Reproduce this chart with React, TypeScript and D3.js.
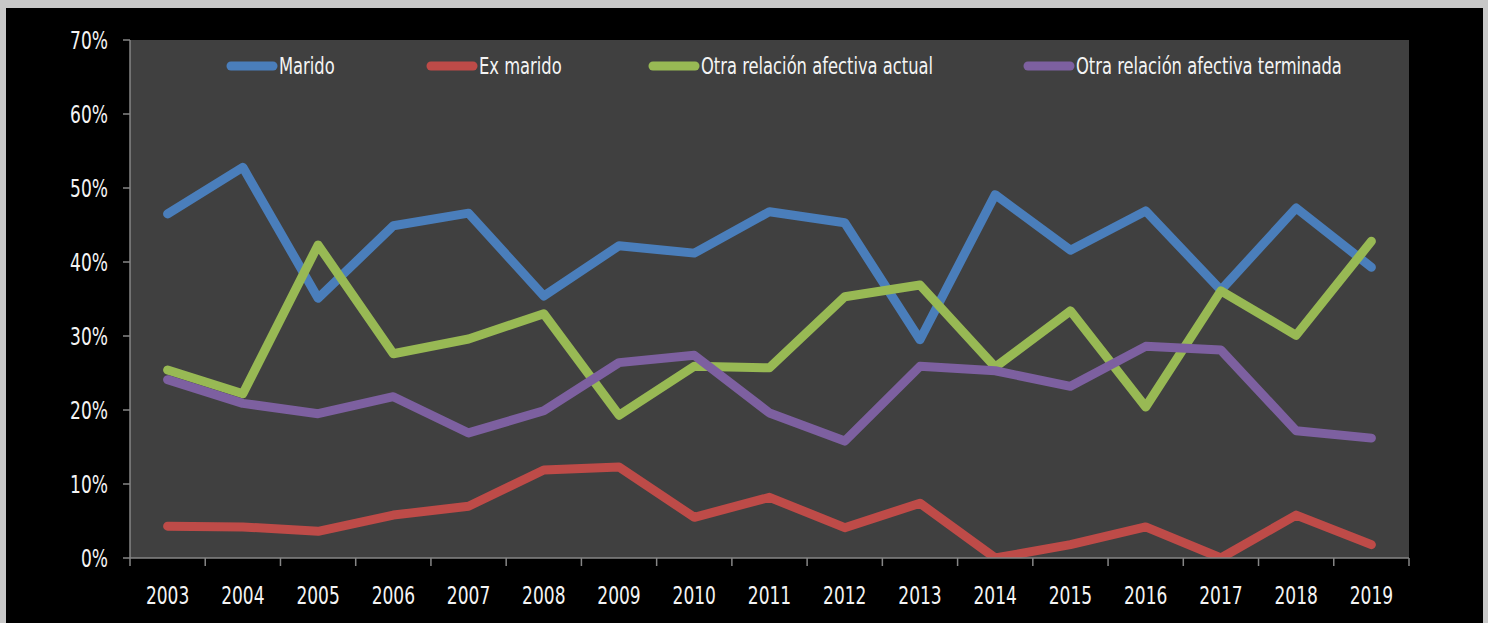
import React from "react";
import * as d3 from "d3";

const years = ["2003", "2004", "2005", "2006", "2007", "2008", "2009", "2010", "2011", "2012", "2013", "2014", "2015", "2016", "2017", "2018", "2019"];

const marido = [46.5, 52.8, 35.1, 44.9, 46.6, 35.4, 42.2, 41.2, 46.8, 45.3, 29.5, 49.1, 41.6, 46.9, 36.2, 47.3, 39.3];
const exMarido = [4.3, 4.2, 3.6, 5.8, 7.0, 11.9, 12.3, 5.5, 8.2, 4.1, 7.4, 0, 1.8, 4.2, 0, 5.8, 1.8];
const otraActual = [25.4, 22.2, 42.3, 27.6, 29.6, 33.0, 19.3, 25.9, 25.7, 35.3, 36.9, 25.8, 33.4, 20.4, 36.1, 30.1, 42.8];
const otraTerminada = [24.1, 20.9, 19.5, 21.8, 16.9, 19.9, 26.4, 27.4, 19.6, 15.8, 25.9, 25.3, 23.2, 28.6, 28.1, 17.2, 16.2];

const seriesNames = ["Marido", "Ex marido", "Otra relación afectiva actual", "Otra relación afectiva terminada"];
const yTicks = [0, 10, 20, 30, 40, 50, 60, 70];

const colors = ["#4a7ebb", "#be4b48", "#98b954", "#7d60a0"];
const legendX = [227, 427, 649, 1024];

const W = 1488;
const H = 623;
const left = 130;
const right = 1409;
const top = 40;
const bottom = 558;
const font = "'DejaVu Sans Condensed', 'DejaVu Sans', sans-serif";
const squeeze = 0.79;

// text squeezed horizontally to mimic the narrow Calibri look
function Label(props: { x: number; y: number; anchor: string; size: number; children: string }) {
  return (
    <text
      transform={`translate(${props.x},${props.y}) scale(${squeeze},1)`}
      dy="0.36em"
      textAnchor={props.anchor}
      fill="#f4f4f4"
      fontSize={props.size}
    >
      {props.children}
    </text>
  );
}

function App() {
  const x = d3.scaleBand<string>().domain(years).range([left, right]);
  const y = d3.scaleLinear().domain([0, 70]).range([bottom, top]);
  const allSeries = [marido, exMarido, otraActual, otraTerminada];

  const line = d3
    .line<number>()
    .x((_, i) => (x(years[i]) as number) + x.bandwidth() / 2)
    .y((d) => y(d));

  const boundaries = years.map((yr) => x(yr) as number).concat([right]);

  return (
    <svg
      width={W}
      height={H}
      style={{ position: "absolute", left: 0, top: 0 }}
      fontFamily={font}
    >
      <defs>
        <clipPath id="plot">
          <rect x={left} y={top - 10} width={right - left + 10} height={bottom - top + 10} />
        </clipPath>
      </defs>
      <rect x={0} y={0} width={W} height={H} fill="#c8c8c8" />
      <rect x={6} y={8} width={1477} height={H - 8} fill="#000000" />
      <rect x={left} y={top} width={right - left} height={bottom - top} fill="#404040" />

      {/* series */}
      <g clipPath="url(#plot)">
        {allSeries.map((s, i) => (
          <path
            key={i}
            d={line(s) || ""}
            fill="none"
            stroke={colors[i]}
            strokeWidth={9}
            strokeLinecap="round"
            strokeLinejoin="round"
          />
        ))}
      </g>

      {/* y axis */}
      <line x1={left} x2={left} y1={top} y2={bottom} stroke="#868686" strokeWidth={1.5} />
      {yTicks.map((t) => (
        <g key={t}>
          <line x1={left - 7} x2={left} y1={y(t)} y2={y(t)} stroke="#868686" strokeWidth={1.5} />
          <Label x={108} y={y(t)} anchor="end" size={24}>
            {t + "%"}
          </Label>
        </g>
      ))}

      {/* x axis */}
      <line x1={left} x2={right} y1={bottom} y2={bottom} stroke="#868686" strokeWidth={1.5} />
      {boundaries.map((b, i) => (
        <line key={i} x1={b} x2={b} y1={bottom} y2={bottom + 8} stroke="#868686" strokeWidth={1.5} />
      ))}
      {years.map((yr) => (
        <Label key={yr} x={(x(yr) as number) + x.bandwidth() / 2} y={595} anchor="middle" size={24}>
          {yr}
        </Label>
      ))}

      {/* legend */}
      {seriesNames.map((n, i) => (
        <g key={n}>
          <line
            x1={legendX[i] + 4}
            x2={legendX[i] + 46}
            y1={66}
            y2={66}
            stroke={colors[i]}
            strokeWidth={9}
            strokeLinecap="round"
          />
          <Label x={legendX[i] + 52} y={66} anchor="start" size={23}>
            {n}
          </Label>
        </g>
      ))}
    </svg>
  );
}

export default App;
